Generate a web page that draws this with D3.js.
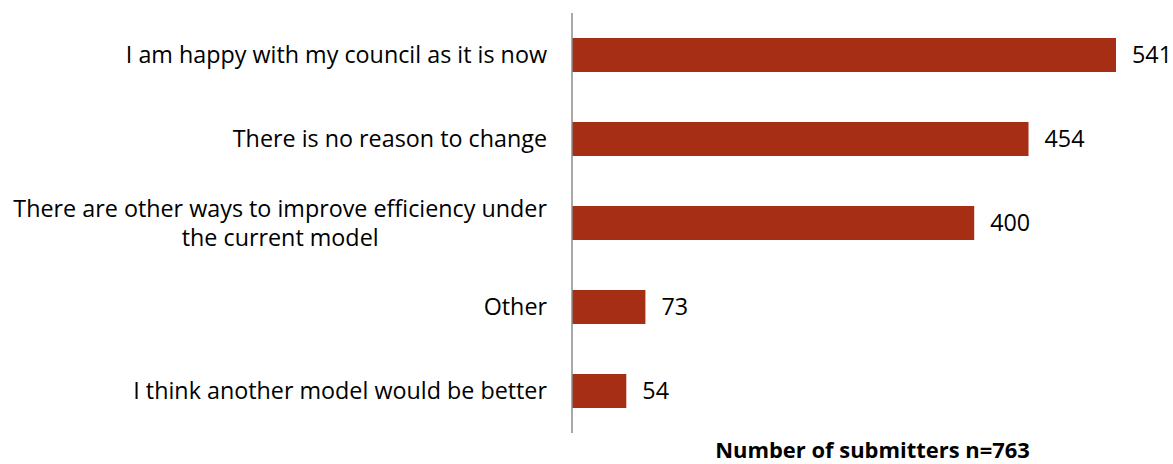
<!DOCTYPE html>
<meta charset="utf-8">
<script src="https://d3js.org/d3.v7.min.js"></script>
<style>
  body { margin: 0; background: #fff; }
  text { font-family: "Open Sans", sans-serif; fill: #000; }
</style>
<svg></svg>
<script>

// DATA
var categories = [
  "I am happy with my council as it is now",
  "There is no reason to change",
  "There are other ways to improve efficiency under|the current model",
  "Other",
  "I think another model would be better"
];
var values = [541, 454, 400, 73, 54];
var axisTitle = "Number of submitters n=763";

// GLOBALS
var width = 1173;
var height = 464;
var axisX = 572;

var svg = d3.select("svg")
    .attr("width", width)
    .attr("height", height);

// fit a font size to a target width (the original used Calibri, which isn't here)
function fitSize(str, target, weight) {
  var probe = svg.append("text")
      .style("font-size", "20px")
      .style("font-weight", weight)
      .text(str);
  var s = 20 * target / probe.node().getComputedTextLength();
  probe.remove();
  return s;
}
var fontSize = fitSize("There are other ways to improve efficiency under", 534, "normal");
var titleSize = fitSize(axisTitle, 315, "bold");

// SCALES
var x = d3.scaleLinear()
    .domain([0, 541])
    .range([axisX, 1116]);

var y = d3.scaleBand()
    .domain(categories)
    .range([13, 433])
    .paddingInner(0.595)
    .paddingOuter(0.2975);

// BARS
svg.append("g")
  .selectAll("rect")
  .data(values)
  .enter()
  .append("rect")
    .attr("x", x(0))
    .attr("y", function(d, i) { return y(categories[i]); })
    .attr("width", function(d) { return x(d) - x(0); })
    .attr("height", y.bandwidth())
    .attr("fill", "#a52e14");

// VALUE LABELS
svg.append("g")
  .selectAll("text")
  .data(values)
  .enter()
  .append("text")
    .attr("x", function(d) { return x(d) + 16; })
    .attr("y", function(d, i) { return y(categories[i]) + y.bandwidth() / 2; })
    .attr("dy", "0.35em")
    .style("font-size", fontSize + "px")
    .text(function(d) { return d; });

// CATEGORY LABELS
var labelRight = 547;
var lineH = 29;
categories.forEach(function(c) {
  var lines = c.split("|");
  var cy = y(c) + y.bandwidth() / 2;
  var t = svg.append("text")
      .style("font-size", fontSize + "px");
  lines.forEach(function(l, j) {
    t.append("tspan")
      .attr("y", cy + (j - (lines.length - 1) / 2) * lineH)
      .attr("dy", "0.35em")
      .text(l);
  });
  if (lines.length === 1) {
    t.attr("text-anchor", "end");
    t.selectAll("tspan").attr("x", labelRight);
  } else {
    var w = 0;
    t.selectAll("tspan").each(function() {
      w = Math.max(w, this.getComputedTextLength());
    });
    t.attr("text-anchor", "middle");
    t.selectAll("tspan").attr("x", labelRight - w / 2);
  }
});

// AXIS LINE
svg.append("line")
    .attr("x1", axisX)
    .attr("x2", axisX)
    .attr("y1", 13)
    .attr("y2", 433)
    .attr("stroke", "#8c8c8c")
    .attr("stroke-width", 1.5);

// AXIS TITLE
svg.append("text")
    .attr("x", (axisX + width) / 2)
    .attr("y", 458)
    .attr("text-anchor", "middle")
    .style("font-size", titleSize + "px")
    .style("font-weight", "bold")
    .text(axisTitle);

</script>
